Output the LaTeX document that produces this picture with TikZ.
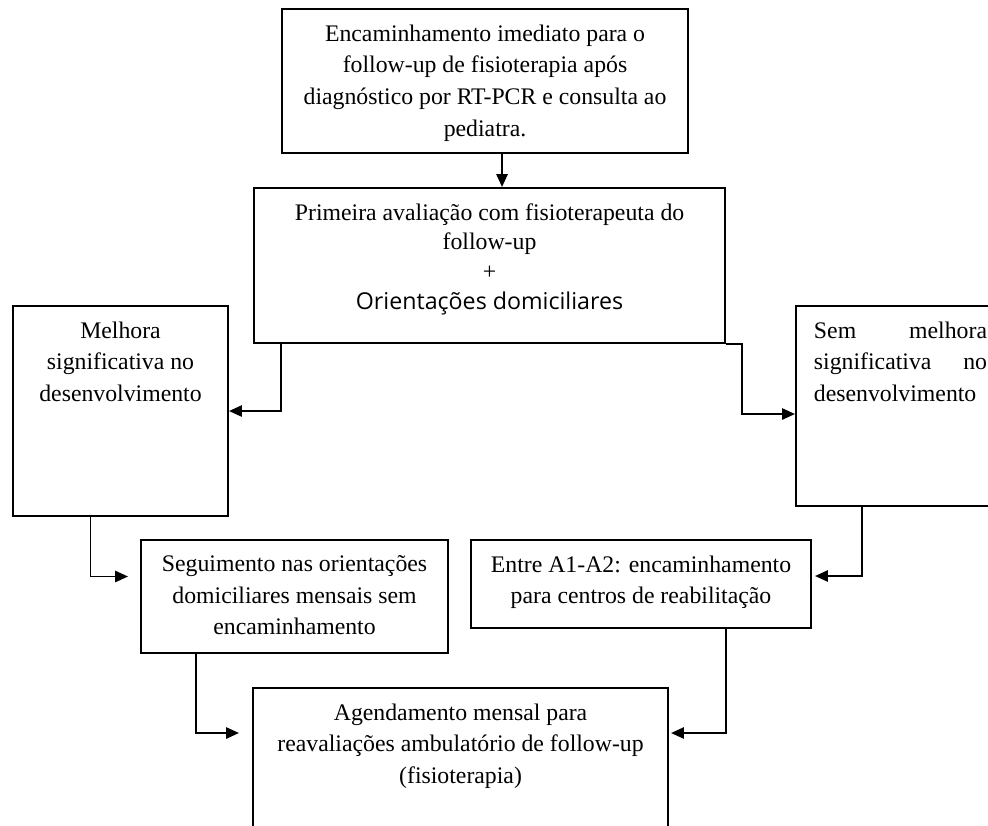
\documentclass[tikz,border=0pt]{standalone}
\usepackage{fontspec}
\setmainfont{Liberation Serif}
\newfontfamily\orientfont{Open Sans}
\usetikzlibrary{arrows.meta,calc}

\begin{document}
\begin{tikzpicture}[x=0.025cm,y=-0.025cm,
  box/.style={draw, line width=1.4pt, anchor=north west, inner sep=0pt},
  txt/.style={anchor=north, align=center, inner sep=0pt, yshift=-0.41cm, font=\fontsize{16.9}{22.5}\selectfont},
  link/.style={line width=1.3pt, -{Triangle[length=0.32cm,width=0.28cm]}}]
\useasboundingbox (0,0) rectangle (988,825);

\node[box, minimum width=10.15cm, minimum height=3.6cm,
  label={[txt]north:{Encaminhamento imediato para o\\follow-up de fisioterapia após\\diagnóstico por RT-PCR e consulta ao\\pediatra.}}] (referral) at (281,8) {};
\node[box, minimum width=11.775cm, minimum height=3.875cm,
  label={[txt, font=\fontsize{16.9}{21}\selectfont]north:{Primeira avaliação com fisioterapeuta do\\follow-up\\+\\{\orientfont\fontsize{16.5}{17}\selectfont Orientações domiciliares}}}] (eval) at (253,187) {};
\node[box, minimum width=5.375cm, minimum height=5.25cm,
  label={[txt]north:{Melhora\\significativa no\\desenvolvimento}}] (better) at (12,305) {};
\node[box, minimum width=5.225cm, minimum height=5.0cm,
  label={[txt, text width=4.325cm, align=left]north:{Sem\hfill melhora\\significativa\hfill no\\desenvolvimento}}] (notbetter) at (795,305) {};
\node[box, minimum width=7.675cm, minimum height=2.825cm,
  label={[txt]north:{Seguimento nas orientações\\domiciliares mensais sem\\encaminhamento}}] (follow) at (140,539) {};
\node[box, minimum width=8.5cm, minimum height=2.2cm,
  label={[txt]north:{Entre A1-A2: encaminhamento\\para centros de reabilitação}}] (rehab) at (470,539) {};
\node[box, minimum width=10.375cm, minimum height=4.0cm,
  label={[txt]north:{Agendamento mensal para\\reavaliações ambulatório de follow-up\\(fisioterapia)}}] (schedule) at (252,687) {};

% connectors
\coordinate (down) at ($(referral.south)+(17,0)$);
\draw[link] (down) -- (down |- eval.north);
\draw[link] ($(eval.south west)+(28,0)$) |- (better.east);
\draw[link] (eval.south east) -- ++(16,0) |- ($(notbetter.west)+(0,8)$);
\draw[link] ($(better.south)+(-30,0)$) |- ($(follow.west)+(-12,-20)$);
\draw[link] ($(notbetter.south west)+(67,0)$) |- ($(rehab.east)+(3,-8)$);
\draw[link] ($(follow.south west)+(56,0)$) |- ($(schedule.north west)+(-13,46)$);
\draw[link] ($(rehab.south)+(85,0)$) |- ($(schedule.north east)+(2,46)$);
\end{tikzpicture}
\end{document}
